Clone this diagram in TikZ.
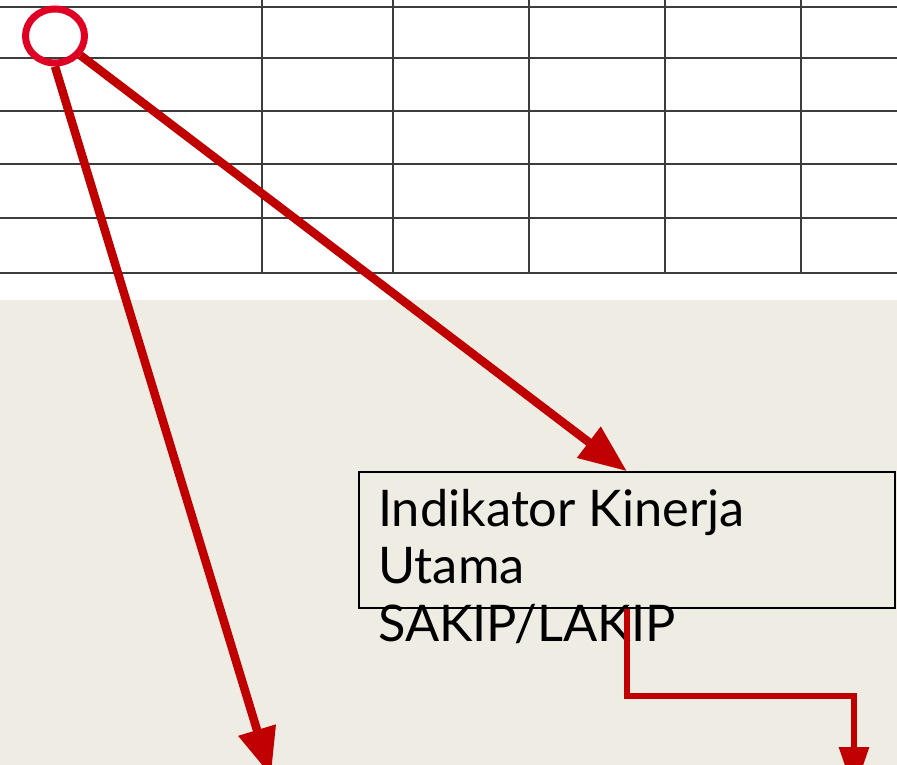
\documentclass[tikz,border=0pt]{standalone}
\usepackage{fontspec}
\setmainfont{Lato}
\usepackage{tikz}
\definecolor{bg}{RGB}{239, 236, 228}
\definecolor{ringred}{RGB}{224, 0, 36}
\definecolor{arrred}{RGB}{192, 0, 0}
\definecolor{gridc}{RGB}{60, 60, 60}
\usetikzlibrary{positioning}
\usetikzlibrary{shapes.geometric}
\usetikzlibrary{arrows.meta}

\begin{document}
\begin{tikzpicture}
[bigarrow/.style={line width=8.5pt, color=arrred, -{Triangle[length=48pt, width=37pt]}},
 elbowarrow/.style={line width=6pt, color=arrred, -{Triangle[length=45pt, width=29pt]}},
 gridline/.style={line width=2pt, color=gridc}]
\useasboundingbox (0pt, 0pt) rectangle (897pt, -765pt);
\clip (0pt, 0pt) rectangle (897pt, -765pt);
\fill [white] (0pt, 0pt) rectangle (897pt, -300pt);
\fill [bg] (0pt, -300pt) rectangle (897pt, -765pt);
\foreach \y in {7, 58, 111, 164, 218, 273}
  \draw [gridline] (0pt, -\y pt) -- (897pt, -\y pt);
\foreach \x in {262, 393, 529, 665, 801}
  \draw [gridline] (\x pt, 0pt) -- (\x pt, -273pt);
\node (ring) [ellipse, minimum width=59pt, minimum height=54pt, line width=7pt, draw=ringred] at (55pt, -36pt) {};
\node (kpi) [rectangle, minimum width=536pt, minimum height=136pt, line width=1.5pt, draw=black, inner sep=0pt] at (627pt, -540pt) {};
\node (kpitext) [anchor=base west, align=left, inner sep=0pt, font=\fontsize{50.5pt}{57.5pt}\selectfont] at (378pt, -641pt) {Indikator Kinerja\\Utama\\SAKIP/LAKIP};
\coordinate (down1) at (271pt, -776pt);
\coordinate (turn) at (854pt, -696pt);
\coordinate (down2) at (854pt, -792pt);
\draw [bigarrow] (ring.south) -- (down1);
\draw [bigarrow] (ring) -- (kpi.north);
\draw [elbowarrow] (kpi.south) |- (turn) -- (down2);
\end{tikzpicture}
\end{document}
